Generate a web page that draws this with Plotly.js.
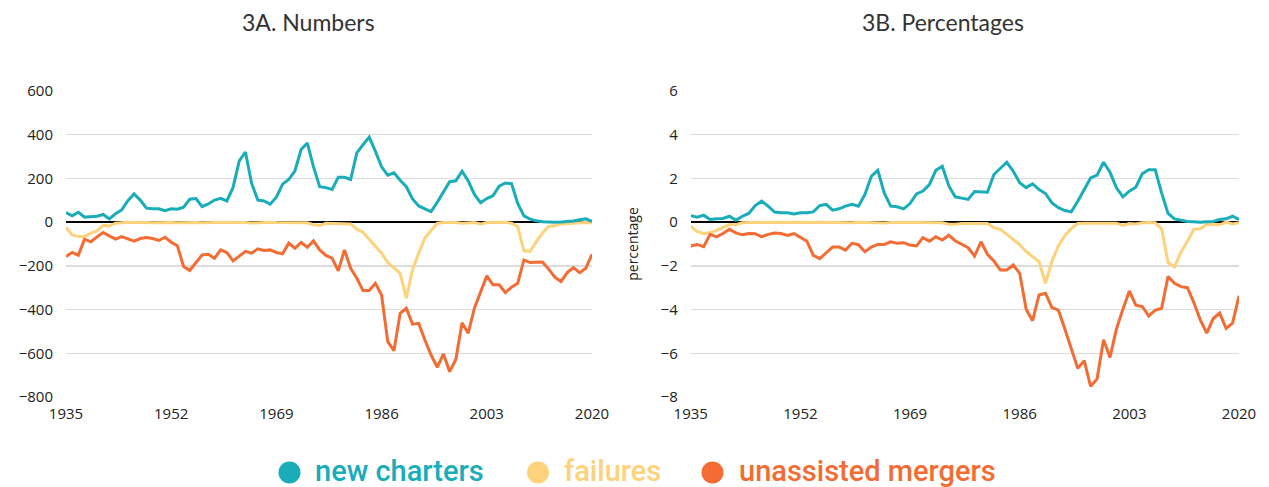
<!DOCTYPE html>
<html>
<head>
<meta charset="utf-8">
<script src="https://cdn.plot.ly/plotly-3.0.1.min.js"></script>
<style>html,body{margin:0;padding:0;background:#fff;}#chart{width:1269px;height:487px;}</style>
</head>
<body>
<div id="chart"></div>
<script>
var years = [1935,1936,1937,1938,1939,1940,1941,1942,1943,1944,
1945,1946,1947,1948,1949,1950,1951,1952,1953,1954,
1955,1956,1957,1958,1959,1960,1961,1962,1963,1964,
1965,1966,1967,1968,1969,1970,1971,1972,1973,1974,
1975,1976,1977,1978,1979,1980,1981,1982,1983,1984,
1985,1986,1987,1988,1989,1990,1991,1992,1993,1994,
1995,1996,1997,1998,1999,2000,2001,2002,2003,2004,
2005,2006,2007,2008,2009,2010,2011,2012,2013,2014,
2015,2016,2017,2018,2019,2020];
var tickYears = [1935,1952,1969,1986,2003,2020];

// 3A. Numbers
var chartersNum = [44,29,45,23,25,27,35,15,38,56,
98,129,101,64,61,61,52,61,59,68,
105,108,71,83,101,109,97,159,280,321,
177,101,97,82,114,174,195,235,332,362,
253,162,158,150,205,205,195,317,354,389,
324,253,215,226,192,162,106,74,61,48,
91,139,185,189,233,189,127,89,108,121,
165,179,176,86,29,14,6,2,0,0,
1,2,5,11,15,3];
var failuresNum = [-24,-58,-66,-66,-50,-40,-15,-17,-5,-2,
-1,-2,-1,-2,-3,-2,-1,-2,-3,-2,
-1,-2,-3,-2,-2,-3,-1,-2,-1,-2,
-4,-2,-3,-1,-2,-2,-3,-1,-2,-3,
-12,-15,-5,-5,-8,-8,-8,-32,-46,-78,
-111,-142,-185,-211,-234,-348,-218,-142,-73,-38,
-5,-2,-1,-2,-5,-5,-2,-8,-2,-2,
-1,-1,-5,-20,-131,-134,-89,-50,-20,-17,
-8,-6,-5,-2,-2,-3];
var mergersNum = [-157,-139,-151,-78,-90,-70,-47,-63,-78,-66,
-75,-87,-75,-70,-75,-84,-69,-92,-108,-203,
-221,-185,-150,-147,-165,-127,-139,-177,-154,-134,
-142,-122,-130,-127,-139,-145,-96,-119,-93,-115,
-86,-127,-152,-165,-223,-127,-211,-257,-313,-313,
-280,-333,-547,-588,-417,-394,-467,-463,-539,-608,
-664,-603,-684,-628,-460,-508,-394,-318,-246,-287,
-287,-322,-298,-280,-173,-185,-185,-182,-215,-252,
-272,-231,-208,-231,-211,-147];

// 3B. Percentages
var chartersPct = [0.30,0.23,0.32,0.12,0.15,0.17,0.27,0.09,0.27,0.40,
0.76,0.96,0.73,0.46,0.43,0.43,0.37,0.43,0.43,0.47,
0.76,0.81,0.55,0.61,0.73,0.82,0.73,1.26,2.10,2.37,
1.34,0.73,0.70,0.61,0.85,1.29,1.42,1.72,2.37,2.56,
1.67,1.16,1.10,1.04,1.40,1.40,1.37,2.18,2.48,2.74,
2.33,1.80,1.58,1.75,1.49,1.31,0.88,0.66,0.53,0.47,
0.96,1.49,2.02,2.15,2.74,2.28,1.57,1.16,1.42,1.60,
2.21,2.40,2.40,1.34,0.40,0.15,0.08,0.03,0.02,0.00,
0.02,0.03,0.12,0.15,0.27,0.12];
var failuresPct = [-0.18,-0.44,-0.52,-0.49,-0.38,-0.26,-0.11,-0.12,-0.03,-0.02,
-0.01,-0.02,-0.01,-0.02,-0.03,-0.02,-0.01,-0.02,-0.03,-0.02,
-0.01,-0.02,-0.03,-0.02,-0.02,-0.03,-0.01,-0.02,-0.01,-0.02,
-0.04,-0.02,-0.03,-0.01,-0.02,-0.02,-0.03,-0.01,-0.02,-0.03,
-0.10,-0.10,-0.06,-0.06,-0.06,-0.06,-0.06,-0.26,-0.33,-0.56,
-0.79,-1.03,-1.34,-1.56,-1.82,-2.80,-1.78,-1.09,-0.61,-0.30,
-0.06,-0.05,-0.04,-0.04,-0.05,-0.05,-0.05,-0.15,-0.06,-0.08,
-0.03,-0.02,-0.03,-0.30,-1.85,-2.05,-1.37,-0.87,-0.33,-0.30,
-0.11,-0.11,-0.12,0.00,-0.08,-0.03];
var mergersPct = [-1.09,-1.02,-1.12,-0.56,-0.67,-0.52,-0.33,-0.49,-0.58,-0.52,
-0.53,-0.67,-0.56,-0.50,-0.52,-0.61,-0.52,-0.71,-0.87,-1.52,
-1.67,-1.40,-1.14,-1.14,-1.28,-0.97,-1.03,-1.35,-1.14,-1.02,
-1.02,-0.90,-0.97,-0.94,-1.05,-1.09,-0.71,-0.87,-0.67,-0.82,
-0.60,-0.85,-1.02,-1.17,-1.55,-0.90,-1.47,-1.78,-2.19,-2.19,
-1.96,-2.34,-3.98,-4.51,-3.33,-3.25,-3.91,-4.03,-4.89,-5.80,
-6.69,-6.34,-7.51,-7.17,-5.38,-6.19,-4.89,-3.98,-3.15,-3.80,
-3.86,-4.29,-4.03,-3.94,-2.49,-2.80,-2.95,-3.00,-3.68,-4.47,
-5.08,-4.41,-4.16,-4.86,-4.62,-3.37];

var seriesNames = ['new charters','failures','unassisted mergers'];
var colors = ['#18adb9','#fed27a','#f26c33'];
var panelTitles = ['3A. Numbers','3B. Percentages'];

function line(x, y, color, name, xa, ya) {
  return {x: x, y: y, type: 'scatter', mode: 'lines', name: name,
    xaxis: xa, yaxis: ya, showlegend: false, hoverinfo: 'x+y',
    line: {color: color, width: 3}};
}

var data = [
  line(years, failuresNum, colors[1], seriesNames[1], 'x', 'y'),
  line(years, mergersNum, colors[2], seriesNames[2], 'x', 'y'),
  line(years, chartersNum, colors[0], seriesNames[0], 'x', 'y'),
  line(years, failuresPct, colors[1], seriesNames[1], 'x2', 'y2'),
  line(years, mergersPct, colors[2], seriesNames[2], 'x2', 'y2'),
  line(years, chartersPct, colors[0], seriesNames[0], 'x2', 'y2')
];

var tickFont = {family: 'Open Sans, sans-serif', size: 15, color: '#222'};
function xax(domain, anchor) {
  return {domain: domain, anchor: anchor, range: [1935, 2020], tickmode: 'array',
    tickvals: tickYears, ticktext: tickYears.map(String), showgrid: false,
    zeroline: false, showline: false, ticks: '', tickfont: tickFont, ticklabelstandoff: 6, fixedrange: true};
}
function yax(anchor, range, dtick) {
  return {anchor: anchor, range: range, dtick: dtick, tick0: 0, showgrid: true,
    gridcolor: '#dcdcdc', gridwidth: 1.5, zeroline: true, zerolinecolor: '#000',
    zerolinewidth: 2, showline: false, ticks: '', tickfont: tickFont, ticklabelstandoff: 12, fixedrange: true};
}

var W = 1173, H = 306, L = 66, T = 91;
function px(x) { return (x - L) / W; }
function py(y) { return 1 - (y - T) / H; }

var layout = {
  width: 1269, height: 487,
  margin: {l: 66, r: 30, t: 91, b: 90},
  paper_bgcolor: '#fff', plot_bgcolor: '#fff',
  showlegend: false,
  xaxis: xax([0, 0.4484], 'y'),
  yaxis: yax('x', [-800, 600], 200),
  xaxis2: xax([0.5326, 1.0], 'y2'),
  yaxis2: Object.assign(yax('x2', [-8, 6], 2), {title: {text: 'percentage', standoff: 18,
    font: {family: 'Open Sans, sans-serif', size: 14, color: '#222'}}}),
  annotations: [
    {text: panelTitles[0], xref: 'paper', yref: 'paper', x: px(308), y: py(22),
     xanchor: 'center', yanchor: 'middle', showarrow: false,
     font: {family: 'Lato, sans-serif', size: 23, color: '#333'}},
    {text: panelTitles[1], xref: 'paper', yref: 'paper', x: px(943), y: py(22),
     xanchor: 'center', yanchor: 'middle', showarrow: false,
     font: {family: 'Lato, sans-serif', size: 23, color: '#333'}}
  ],
  shapes: []
};

var legendDot = [289.5, 538, 712.5];
var legendText = [313, 562, 737];
for (var i = 0; i < 3; i++) {
  layout.shapes.push({type: 'circle', xref: 'paper', yref: 'paper',
    x0: px(legendDot[i] - 11), x1: px(legendDot[i] + 11),
    y0: py(472.5 + 11), y1: py(472.5 - 11),
    fillcolor: colors[i], line: {width: 0}});
  layout.annotations.push({
    text: seriesNames[i],
    xref: 'paper', yref: 'paper', x: px(legendText[i]), y: py(471),
    xanchor: 'left', yanchor: 'middle', showarrow: false,
    font: {family: 'Roboto, sans-serif', size: 29, color: colors[i], weight: 500}
  });
}

Plotly.newPlot('chart', data, layout, {displayModeBar: false, staticPlot: true});
</script>
</body>
</html>
